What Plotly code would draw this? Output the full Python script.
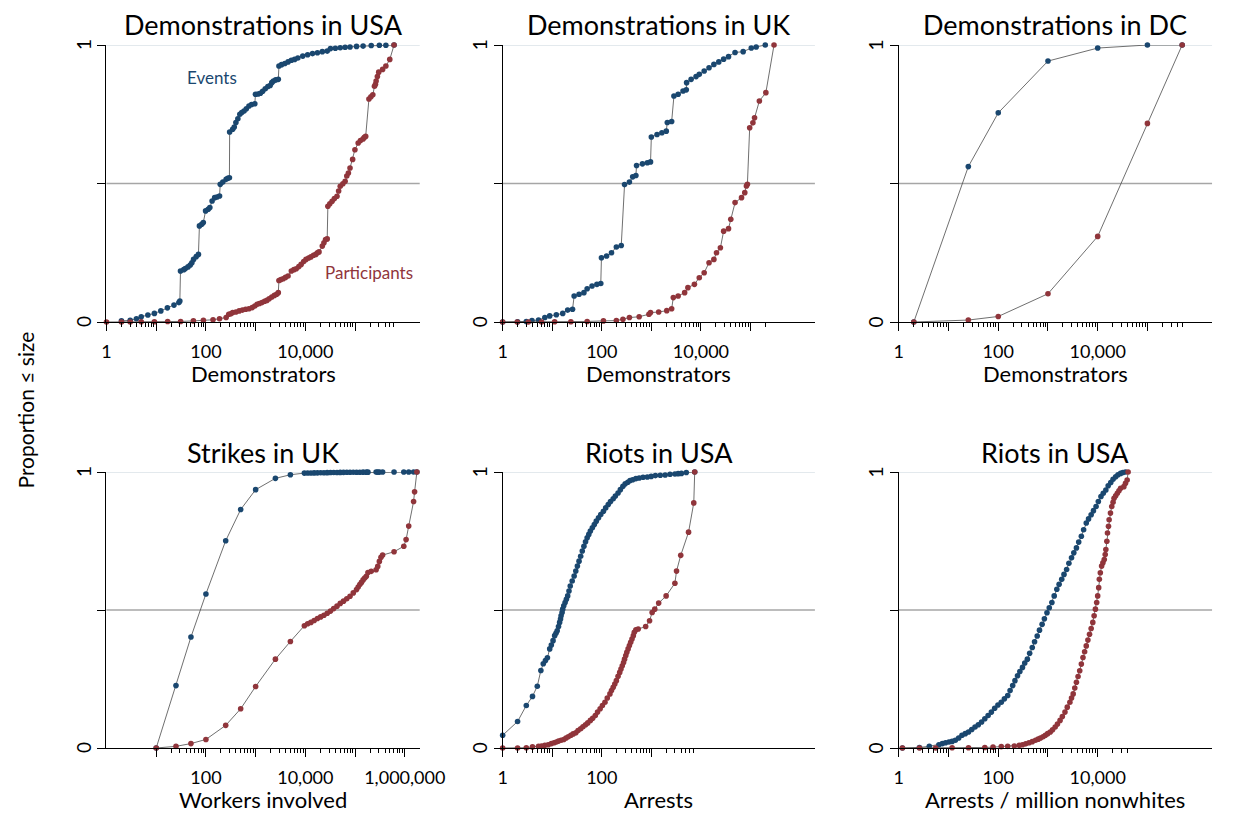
import numpy as np
import plotly.graph_objects as go

NAVY = "#1a476f"
MAROON = "#90353b"
FONT = "Lato"

# ---------------- Data (size, proportion <= size) ----------------
# Panel 1: Demonstrations in USA
usa_ev_x = [2, 3, 4, 5, 6.8, 9.2, 12.4, 16.8, 22.8, 28.6, 29.9, 30.8, 35.8, 38.6, 43.6, 48.4, 52.2, 56.4, 63.6,
            70.7, 74, 82.2, 88.6, 98.5, 111, 120, 133, 150, 167, 188, 194, 219, 255, 275, 297, 300, 345, 372,
            401, 439, 481, 526, 585, 650, 734, 828, 963, 993, 1120, 1245, 1384, 1561, 1762, 1958, 2112, 2277,
            2530, 2857, 2944, 3320, 3866, 4490, 5224, 6080, 7063, 8870, 11110, 13930, 17490, 21930, 27500,
            32000, 40090, 50300, 63100, 79100, 107000, 145000, 211300, 308000, 416600, 608000]
usa_ev_y = [0.004, 0.006, 0.012, 0.019, 0.025, 0.031, 0.040, 0.051, 0.061, 0.070, 0.076, 0.184, 0.189, 0.193,
            0.199, 0.206, 0.214, 0.226, 0.236, 0.244, 0.347, 0.353, 0.359, 0.401, 0.407, 0.413, 0.437, 0.449,
            0.451, 0.455, 0.497, 0.505, 0.515, 0.519, 0.521, 0.686, 0.696, 0.704, 0.720, 0.734, 0.750, 0.756,
            0.762, 0.770, 0.780, 0.785, 0.788, 0.822, 0.823, 0.826, 0.833, 0.842, 0.850, 0.854, 0.864, 0.870,
            0.874, 0.876, 0.924, 0.929, 0.933, 0.939, 0.945, 0.948, 0.953, 0.960, 0.965, 0.969, 0.972, 0.976,
            0.978, 0.987, 0.988, 0.990, 0.992, 0.993, 0.995, 0.996, 0.998, 0.999, 0.999, 1.0]
usa_pa_x = [1, 2, 3, 5, 9.2, 17, 31, 56, 89, 139, 188, 255, 288, 315, 345, 401, 466, 543, 631, 734, 853, 963,
            1071, 1190, 1343, 1514, 1683, 1870, 2112, 2383, 2649, 2857, 2944, 3220, 3581, 3980, 4490, 5224,
            5890, 6549, 7400, 8222, 9270, 10300, 11640, 12920, 14590, 16210, 17490, 18840, 21930, 23650,
            25510, 27500, 28350, 31040, 34500, 38370, 43300, 46700, 50300, 56800, 63100, 68100, 73400, 79100,
            89300, 99300, 115400, 128200, 145000, 153800, 163400, 190000, 208000, 227600, 245600, 257000,
            265000, 281000, 298700, 358000, 416600, 499000, 608000]
usa_pa_y = [0.0, 0.0, 0.0, 0.001, 0.001, 0.002, 0.002, 0.004, 0.006, 0.008, 0.012, 0.016, 0.028, 0.030, 0.034,
            0.036, 0.040, 0.043, 0.046, 0.048, 0.052, 0.058, 0.064, 0.067, 0.070, 0.075, 0.078, 0.084, 0.090,
            0.096, 0.100, 0.106, 0.150, 0.153, 0.156, 0.161, 0.166, 0.184, 0.189, 0.192, 0.200, 0.208, 0.218,
            0.226, 0.231, 0.235, 0.241, 0.244, 0.250, 0.253, 0.274, 0.286, 0.298, 0.300, 0.418, 0.427, 0.436,
            0.446, 0.454, 0.473, 0.490, 0.499, 0.508, 0.527, 0.538, 0.556, 0.587, 0.622, 0.646, 0.655, 0.661,
            0.667, 0.670, 0.805, 0.813, 0.820, 0.851, 0.858, 0.870, 0.886, 0.902, 0.912, 0.924, 0.948, 1.0]

# Panel 2: Demonstrations in UK
uk_ev_x = [1, 2, 3, 3.9, 5.3, 7.1, 8.9, 12.1, 16.3, 20.5, 25.7, 27.7, 34.8, 43.6, 50.7, 63.6, 79.7, 95.5, 98.5,
           125, 157, 197, 247, 288, 361, 420, 488, 503, 661, 828, 963, 1000, 1303, 1633, 2000, 2100, 2570, 2857,
           3475, 4357, 5070, 5150, 6350, 7980, 9270, 11640, 14590, 18290, 22950, 28770, 36060, 48860, 71200,
           103800, 130300, 198700]
uk_ev_y = [0.0, 0.001, 0.002, 0.005, 0.007, 0.016, 0.022, 0.026, 0.031, 0.043, 0.046, 0.094, 0.100, 0.106,
           0.120, 0.130, 0.136, 0.139, 0.232, 0.238, 0.250, 0.271, 0.276, 0.496, 0.505, 0.524, 0.529, 0.565,
           0.571, 0.575, 0.578, 0.668, 0.677, 0.683, 0.689, 0.720, 0.724, 0.816, 0.822, 0.834, 0.838, 0.864,
           0.876, 0.886, 0.894, 0.906, 0.918, 0.930, 0.939, 0.949, 0.958, 0.973, 0.976, 0.989, 0.993, 1.0]
uk_pa_x = [1, 1.97, 3.3, 6.1, 11.2, 23.8, 50.7, 108, 197, 267, 361, 568, 893, 963, 1406, 2047, 2570, 2773, 3475,
           4698, 5468, 7396, 9270, 11640, 14590, 18290, 20650, 24730, 28770, 36060, 40090, 48860, 66000, 76760,
           82800, 86700, 96400, 112000, 120800, 151300, 204500, 298700]
uk_pa_y = [0.0, 0.0, 0.0, 0.0, 0.001, 0.001, 0.002, 0.004, 0.005, 0.010, 0.016, 0.019, 0.028, 0.034, 0.036,
           0.041, 0.048, 0.088, 0.094, 0.106, 0.124, 0.136, 0.160, 0.178, 0.214, 0.226, 0.250, 0.268, 0.328,
           0.337, 0.371, 0.431, 0.449, 0.467, 0.491, 0.497, 0.701, 0.719, 0.737, 0.798, 0.828, 1.0]

# Panel 3: Demonstrations in DC
dc_ev_x = [2, 25, 100, 1000, 10000, 100000, 500000]
dc_ev_y = [0.0, 0.561, 0.755, 0.942, 0.989, 1.0, 1.0]
dc_pa_x = [2, 25, 100, 1000, 10000, 100000, 500000]
dc_pa_y = [0.0, 0.007, 0.020, 0.102, 0.309, 0.717, 1.0]

# Panel 4: Strikes in UK
st_ev_x = [10, 25, 50, 100, 250, 500, 1000, 2500, 5000, 9550, 11120, 12920, 15030, 17490, 20320, 23650, 27500,
           32000, 37150, 43300, 50300, 58500, 68100, 79100, 92000, 107000, 124500, 145000, 168400, 181600,
           265000, 285700, 308000, 358000, 608000, 955000, 1199000, 1503000, 1749000]
st_ev_y = [0.0, 0.226, 0.402, 0.558, 0.751, 0.864, 0.936, 0.977, 0.990, 0.996, 0.9962, 0.9965, 0.9968, 0.997,
           0.9972, 0.9975, 0.9977, 0.998, 0.9982, 0.9984, 0.9986, 0.9988, 0.9989, 0.999, 0.9991, 0.9992,
           0.9993, 0.9994, 0.9995, 0.9995, 0.9996, 0.9997, 0.9997, 0.9998, 0.9998, 0.9999, 0.9999, 1.0, 1.0]
st_pa_x = [10, 25, 50, 100, 250, 500, 1000, 2500, 5000, 9550, 11120, 12920, 15030, 17490, 20320, 23650, 27500,
           32000, 37150, 43300, 50300, 58500, 68100, 79100, 92000, 107000, 115400, 124500, 134300, 145000,
           156000, 168400, 181600, 211200, 265000, 285700, 308000, 332000, 358000, 608000, 955000, 1062000,
           1199000, 1503000, 1574000, 1749000]
st_pa_y = [0.0, 0.006, 0.016, 0.031, 0.082, 0.142, 0.223, 0.322, 0.386, 0.443, 0.450, 0.455, 0.462, 0.469,
           0.475, 0.481, 0.488, 0.496, 0.505, 0.514, 0.524, 0.532, 0.541, 0.550, 0.562, 0.574, 0.583, 0.592,
           0.600, 0.609, 0.616, 0.622, 0.636, 0.640, 0.646, 0.658, 0.676, 0.691, 0.699, 0.711, 0.731, 0.755,
           0.804, 0.893, 0.928, 1.0]

# Panel 5: Riots in USA (arrests)
ra_ev_x = [1, 2, 3, 4, 5, 5.9, 6.6, 7.3, 8, 8.9, 9.6, 10.4, 11.2, 11.9, 12.6, 13.4, 14.1, 14.7, 15.1, 15.8,
           16.3, 17.1, 18.2, 19.3, 20.5, 21.8, 23.1, 25.3, 27.7, 29.9, 32.2, 34.8, 37.5, 40.4, 43.6, 47.0, 50.7,
           54.7, 58.9, 64.5, 70.7, 77.4, 86, 95.5, 108, 120, 135, 150, 170, 188, 213, 237, 267, 297, 335, 372,
           420, 488, 568, 681, 828, 993, 1208, 1514, 1901, 2382, 2987, 3475, 4043, 5070, 7500]
ra_ev_y = [0.046, 0.096, 0.154, 0.187, 0.224, 0.281, 0.305, 0.317, 0.327, 0.359, 0.373, 0.389, 0.407, 0.416,
           0.425, 0.440, 0.455, 0.467, 0.479, 0.491, 0.503, 0.515, 0.527, 0.539, 0.551, 0.569, 0.587, 0.605,
           0.623, 0.641, 0.659, 0.677, 0.695, 0.714, 0.731, 0.747, 0.762, 0.774, 0.786, 0.798, 0.810, 0.822,
           0.834, 0.846, 0.858, 0.870, 0.882, 0.893, 0.903, 0.913, 0.924, 0.936, 0.948, 0.957, 0.963, 0.969,
           0.972, 0.976, 0.978, 0.981, 0.982, 0.984, 0.987, 0.988, 0.989, 0.992, 0.993, 0.994, 0.995, 0.998,
           1.0]
ra_pa_x = [1, 2, 3, 4, 5.3, 6.1, 7.1, 8.3, 9.6, 10.9, 12.1, 13.4, 15.1, 17.1, 19, 21.1, 23.8, 26.5, 29.9, 33.2,
           37.5, 41.7, 47, 52.2, 58.9, 65.5, 74, 82.2, 92.7, 103, 116, 129, 146, 157, 170, 183, 197, 213, 230,
           244, 259, 275, 288, 305, 320, 340, 361, 383, 407, 433, 453, 488, 543, 768, 920, 1038, 1172, 1406,
           1988, 2987, 3221, 3919, 5632, 7177, 7500]
ra_pa_y = [0.0, 0.0, 0.001, 0.004, 0.006, 0.007, 0.010, 0.012, 0.016, 0.019, 0.022, 0.025, 0.028, 0.031, 0.036,
           0.041, 0.046, 0.051, 0.055, 0.063, 0.070, 0.077, 0.084, 0.091, 0.100, 0.108, 0.118, 0.130, 0.142,
           0.154, 0.166, 0.181, 0.196, 0.208, 0.220, 0.232, 0.244, 0.260, 0.274, 0.286, 0.298, 0.310, 0.322,
           0.335, 0.347, 0.359, 0.371, 0.383, 0.395, 0.407, 0.419, 0.428, 0.431, 0.440, 0.461, 0.491, 0.503,
           0.525, 0.551, 0.597, 0.641, 0.698, 0.782, 0.888, 1.0]

# Panel 6: Riots in USA (arrests per million nonwhites)
rp_ev_x = [1.18, 2.6, 4.1, 6.4, 7.5, 8.7, 10.2, 11.8, 13.7, 16.0, 18.6, 21.7, 25.2, 29.3, 34.1, 39.7, 46.2, 53.7,
           62.5, 72.8, 84.7, 98.5, 115, 133, 155, 173, 195, 217, 244, 272, 307, 341, 385, 428, 483, 537, 607,
           675, 762, 847, 955, 1062, 1199, 1334, 1506, 1675, 1890, 2100, 2371, 2636, 2977, 3311, 3735, 4150,
           4690, 5210, 5888, 6545, 7390, 8210, 9270, 10300, 11640, 12940, 14590, 16250, 18320, 20370, 23000,
           25600, 28900, 32100, 36250]
rp_ev_y = [0.0, 0.002, 0.006, 0.012, 0.016, 0.019, 0.022, 0.024, 0.028, 0.036, 0.046, 0.052, 0.058, 0.067,
           0.076, 0.084, 0.094, 0.106, 0.118, 0.130, 0.144, 0.156, 0.166, 0.178, 0.190, 0.208, 0.226, 0.244,
           0.262, 0.277, 0.292, 0.308, 0.322, 0.343, 0.364, 0.385, 0.406, 0.427, 0.448, 0.468, 0.490, 0.508,
           0.527, 0.551, 0.575, 0.593, 0.611, 0.629, 0.647, 0.669, 0.689, 0.707, 0.725, 0.746, 0.767, 0.791,
           0.815, 0.830, 0.845, 0.860, 0.875, 0.893, 0.911, 0.923, 0.935, 0.950, 0.962, 0.974, 0.983, 0.990,
           0.995, 0.998, 1.0]
rp_pa_x = [1.18, 2.6, 5.5, 11.8, 25.2, 53.7, 78.5, 115, 155, 210, 264, 307, 357, 415, 483, 562, 635, 706, 797,
           886, 985, 1112, 1236, 1396, 1552, 1751, 1946, 2198, 2443, 2759, 2977, 3212, 3459, 3735, 4027, 4349,
           4690, 5058, 5458, 5888, 6353, 6850, 7390, 7967, 8472, 8995, 9550, 10000, 10470, 10790, 11300, 12000,
           12740, 13550, 14160, 14590, 15280, 15740, 16480, 16980, 18060, 19180, 20370, 21320, 23000, 24820,
           26790, 28900, 33600, 36250, 39100, 40930]
rp_pa_y = [0.0, 0.0, 0.0, 0.001, 0.001, 0.002, 0.003, 0.005, 0.006, 0.007, 0.010, 0.012, 0.015, 0.019, 0.023,
           0.028, 0.032, 0.036, 0.041, 0.046, 0.052, 0.058, 0.066, 0.076, 0.087, 0.100, 0.114, 0.130, 0.148,
           0.166, 0.181, 0.196, 0.217, 0.238, 0.259, 0.280, 0.304, 0.328, 0.349, 0.370, 0.391, 0.412, 0.433,
           0.455, 0.479, 0.503, 0.527, 0.551, 0.581, 0.611, 0.635, 0.659, 0.671, 0.683, 0.701, 0.719, 0.749,
           0.779, 0.803, 0.827, 0.851, 0.875, 0.890, 0.905, 0.914, 0.923, 0.932, 0.941, 0.947, 0.959, 0.971,
           1.0]

titles = ["Demonstrations in USA", "Demonstrations in UK", "Demonstrations in DC",
          "Strikes in UK", "Riots in USA", "Riots in USA"]
x_titles = ["Demonstrators", "Demonstrators", "Demonstrators",
            "Workers involved", "Arrests", "Arrests / million nonwhites"]
x_label_values = [[1, 100, 10000], [1, 100, 10000], [1, 100, 10000],
                  [100, 10000, 1000000], [1, 100], [1, 100, 10000]]
y_tick_values = [0, 0.5, 1]
y_label_values = [0, 1]
y_label_text = ["0", "1"]

series = [
    (usa_ev_x, usa_ev_y, usa_pa_x, usa_pa_y),
    (uk_ev_x, uk_ev_y, uk_pa_x, uk_pa_y),
    (dc_ev_x, dc_ev_y, dc_pa_x, dc_pa_y),
    (st_ev_x, st_ev_y, st_pa_x, st_pa_y),
    (ra_ev_x, ra_ev_y, ra_pa_x, ra_pa_y),
    (rp_ev_x, rp_ev_y, rp_pa_x, rp_pa_y),
]

# ---------------- Layout geometry (pixels) ----------------
W, H = 1239, 814
col_px = [(104, 425), (510, 830), (916, 1237)]
row_px = [(45, 322), (472, 748)]


def px_x(p):
    return p / W


def px_y(p):
    return 1 - p / H


fig = go.Figure()
annotations = []
shapes = []
layout_axes = {}

for i in range(6):
    r, c = divmod(i, 3)
    n = i + 1
    xa = "x" if n == 1 else f"x{n}"
    ya = "y" if n == 1 else f"y{n}"
    ex, ey, pxs, pys = series[i]

    for xs, ys, col in [(ex, ey, NAVY), (pxs, pys, MAROON)]:
        pts = sorted(zip(xs, ys))
        fig.add_trace(go.Scatter(
            x=[p[0] for p in pts], y=[p[1] for p in pts], mode="lines+markers", xaxis=xa, yaxis=ya,
            line=dict(color="#4a4a4a", width=0.8),
            marker=dict(color=col, size=5.6, line=dict(width=0)),
            cliponaxis=False, showlegend=False, hoverinfo="skip"))

    allx = list(ex) + list(pxs)
    lo, hi = min(allx), max(allx)
    kmin, kmax = int(np.floor(np.log10(lo))), int(np.ceil(np.log10(hi)))
    majors = [10.0 ** k for k in range(kmin, kmax + 1) if lo * 0.999 <= 10.0 ** k <= hi * 1.001]
    minors = [m * 10.0 ** k for k in range(kmin, kmax + 1) for m in range(2, 10)
              if lo <= m * 10.0 ** k <= hi]
    labels = x_label_values[i]
    majors = sorted(set(majors) | set(float(v) for v in labels))
    ticktext = [f"{int(v):,}" if v in labels else "" for v in majors]

    x0, x1 = col_px[c]
    y0, y1 = row_px[r]
    key_x = "xaxis" if n == 1 else f"xaxis{n}"
    key_y = "yaxis" if n == 1 else f"yaxis{n}"
    layout_axes[key_x] = dict(
        type="log", range=[0, 6.3], domain=[px_x(x0), px_x(x1)], anchor=ya,
        showline=True, linecolor="black", linewidth=1.3, showgrid=False, zeroline=False,
        ticks="outside", ticklen=8, tickwidth=1, tickcolor="black",
        tickmode="array", tickvals=majors, ticktext=ticktext,
        tickfont=dict(family=FONT, size=18, color="black"), ticklabelstandoff=5,
        minor=dict(tickmode="array", tickvals=minors, ticks="outside", ticklen=4,
                   tickwidth=1, tickcolor="black", showgrid=False),
    )
    layout_axes[key_y] = dict(
        range=[0, 1], domain=[px_y(y1), px_y(y0)], anchor=xa,
        showline=True, linecolor="black", linewidth=1.3, showgrid=False, zeroline=False,
        ticks="outside", ticklen=8, tickwidth=1, tickcolor="black",
        tickmode="array", tickvals=y_tick_values, ticktext=["" for _ in y_tick_values],
    )
    # y tick labels, rotated as in the reference
    for v, t in zip(y_label_values, y_label_text):
        annotations.append(dict(text=t, x=px_x(x0 - 24), y=v, xref="paper", yref=ya,
                                textangle=-90, showarrow=False, xanchor="center", yanchor="middle",
                                font=dict(family=FONT, size=19, color="black")))
    # reference lines
    shapes.append(dict(type="line", xref=f"{xa} domain", yref=ya, x0=0, x1=1, y0=1, y1=1,
                       line=dict(color="#e3e9ed", width=2), layer="below"))
    shapes.append(dict(type="line", xref=f"{xa} domain", yref=ya, x0=0, x1=1, y0=0.5, y1=0.5,
                       line=dict(color="#a6a6a6", width=1.5), layer="below"))
    # titles
    cx = px_x((x0 + x1) / 2)
    annotations.append(dict(text=titles[i], x=cx, y=px_y(y0 - 20), xref="paper", yref="paper",
                            xanchor="center", yanchor="middle", showarrow=False,
                            font=dict(family=FONT, size=27, color="black")))
    annotations.append(dict(text=x_titles[i], x=cx, y=px_y(y1 + 51), xref="paper", yref="paper",
                            xanchor="center", yanchor="middle", showarrow=False,
                            font=dict(family=FONT, size=22, color="black")))

annotations.append(dict(text="Events", x=np.log10(131), y=0.884, xref="x", yref="y",
                        showarrow=False, font=dict(family=FONT, size=17, color=NAVY)))
annotations.append(dict(text="Participants", x=np.log10(187000), y=0.18, xref="x", yref="y",
                        showarrow=False, font=dict(family=FONT, size=17, color=MAROON)))
annotations.append(dict(text="Proportion ≤ size", x=px_x(20), y=px_y(410), xref="paper", yref="paper",
                        textangle=-90, showarrow=False, xanchor="center", yanchor="middle",
                        font=dict(family=FONT, size=21, color="black")))

fig.update_layout(
    width=W, height=H, margin=dict(l=0, r=0, t=0, b=0),
    paper_bgcolor="white", plot_bgcolor="white",
    annotations=annotations, shapes=shapes, **layout_axes,
)

fig.write_html(
    "out.html",
    post_script=("document.documentElement.style.margin='0';"
                 "document.documentElement.style.overflow='hidden';"
                 "document.body.style.margin='0';"
                 "document.body.style.overflow='hidden';"),
)
